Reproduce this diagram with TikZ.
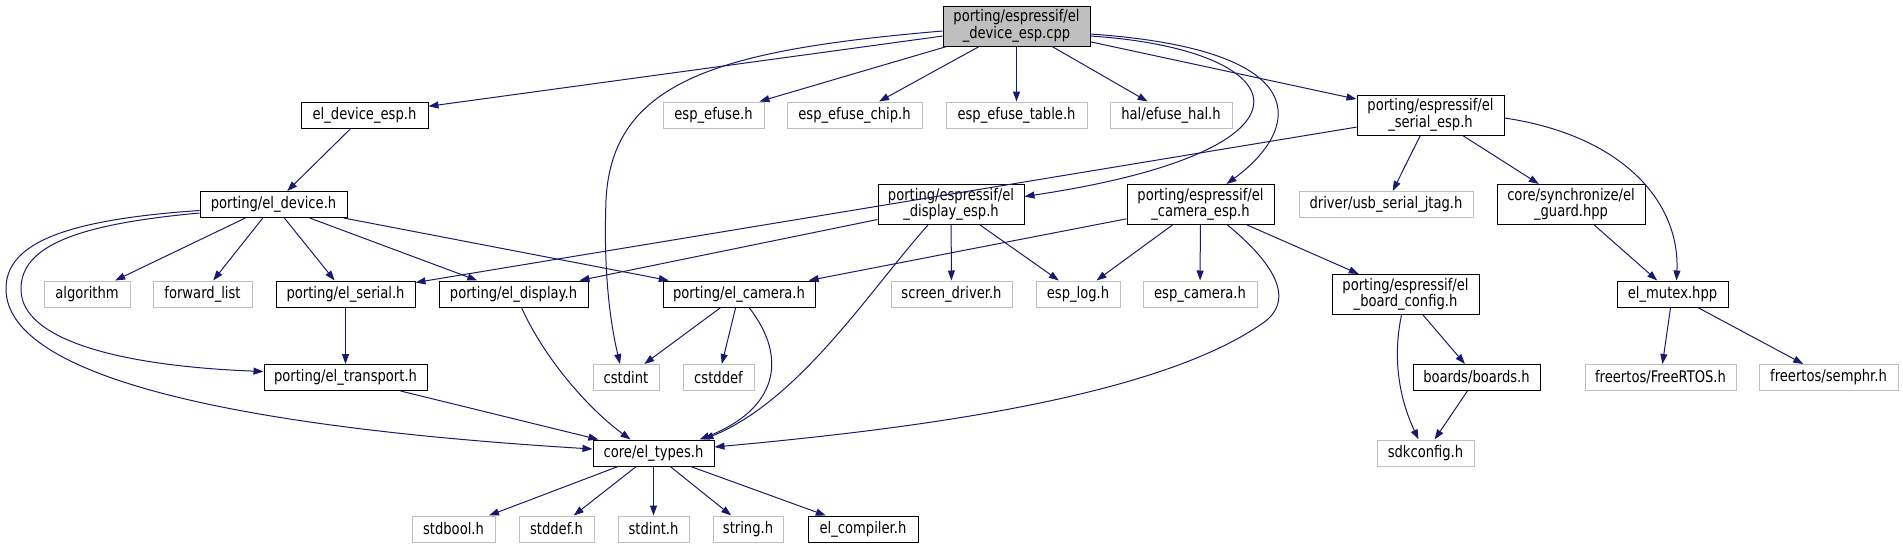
\documentclass[tikz,border=0pt]{standalone}
\usepackage{fontspec}
\setmainfont{DejaVu Sans}[FakeStretch=0.82]
\usetikzlibrary{arrows.meta}
\definecolor{edgeblue}{HTML}{191970}
\definecolor{extgray}{HTML}{BFBFBF}

\begin{document}
\begin{tikzpicture}[>={Triangle[length=10pt,width=7pt]},x=1pt,y=-1pt,font=\fontsize{16}{14.5}\selectfont]
\tikzstyle{hdr}=[draw=black,line width=1pt,inner sep=0pt,align=center,minimum height=26pt]
\tikzstyle{ext}=[hdr,draw=extgray]
\tikzstyle{two}=[minimum height=40pt]
\tikzstyle{dep}=[->,draw=edgeblue,line width=1pt]
\useasboundingbox (0,0) rectangle (1903,544);
\node[hdr,two,fill=extgray,minimum width=147pt] (cpp) at (1016.5,26) {porting/espressif/el\\\_device\_esp.cpp};
\node[hdr,minimum width=127pt] (desp) at (364.5,115) {el\_device\_esp.h};
\node[ext,minimum width=101pt] (efu) at (713.5,115) {esp\_efuse.h};
\node[ext,minimum width=135pt] (efc) at (854.5,115) {esp\_efuse\_chip.h};
\node[ext,minimum width=141pt] (eft) at (1016.5,115) {esp\_efuse\_table.h};
\node[ext,minimum width=122pt] (efh) at (1171,115) {hal/efuse\_hal.h};
\node[hdr,two,minimum width=147pt] (sesp) at (1430.5,115) {porting/espressif/el\\\_serial\_esp.h};
\node[hdr,minimum width=147pt] (dev) at (273.5,204.5) {porting/el\_device.h};
\node[hdr,two,minimum width=146pt] (dspe) at (951,204.5) {porting/espressif/el\\\_display\_esp.h};
\node[hdr,two,minimum width=147pt] (came) at (1200.5,204.5) {porting/espressif/el\\\_camera\_esp.h};
\node[ext,minimum width=174pt] (jtag) at (1386,204.5) {driver/usb\_serial\_jtag.h};
\node[hdr,two,minimum width=148pt] (grd) at (1571,204.5) {core/synchronize/el\\\_guard.hpp};
\node[ext,minimum width=86pt] (alg) at (87,294) {algorithm};
\node[ext,minimum width=99pt] (fwl) at (202.5,294) {forward\_list};
\node[hdr,minimum width=139pt] (ser) at (345.5,294) {porting/el\_serial.h};
\node[hdr,minimum width=149pt] (dsp) at (513.5,294) {porting/el\_display.h};
\node[hdr,minimum width=152pt] (cam) at (739,294) {porting/el\_camera.h};
\node[ext,minimum width=121pt] (scr) at (951.5,294) {screen\_driver.h};
\node[ext,minimum width=84pt] (log) at (1078,294) {esp\_log.h};
\node[ext,minimum width=114pt] (ecam) at (1200,294) {esp\_camera.h};
\node[hdr,two,minimum width=147pt] (bcfg) at (1405.5,294.5) {porting/espressif/el\\\_board\_config.h};
\node[hdr,minimum width=111pt] (mtx) at (1672.5,294) {el\_mutex.hpp};
\node[hdr,minimum width=163pt] (trn) at (345.5,377.5) {porting/el\_transport.h};
\node[ext,minimum width=66pt] (cin) at (626,377.5) {cstdint};
\node[ext,minimum width=71pt] (cdf) at (718.5,377.5) {cstddef};
\node[hdr,minimum width=127pt] (brd) at (1476.5,377.5) {boards/boards.h};
\node[ext,minimum width=151pt] (frt) at (1660.5,377.5) {freertos/FreeRTOS.h};
\node[ext,minimum width=139pt] (sem) at (1828.5,377.5) {freertos/semphr.h};
\node[hdr,minimum width=121pt] (typ) at (653.5,453) {core/el\_types.h};
\node[ext,minimum width=97pt] (sdk) at (1425.5,453) {sdkconfig.h};
\node[ext,minimum width=83pt] (sbo) at (453.5,529) {stdbool.h};
\node[ext,minimum width=75pt] (sdf) at (556.5,529) {stddef.h};
\node[ext,minimum width=71pt] (sin) at (653.5,529) {stdint.h};
\node[ext,minimum width=70pt] (str) at (748,529) {string.h};
\node[hdr,minimum width=110pt] (cmp) at (863,529) {el\_compiler.h};
\draw[dep] (cpp) -- (desp);
\draw[dep] ([yshift=-5pt]cpp.west) .. controls (720,50) and (612,80) .. (606,200) .. controls (603,280) and (612,330) .. ([xshift=-6pt]cin.north);
\draw[dep] (cpp) -- (efu);
\draw[dep] (cpp) -- (efc);
\draw[dep] (cpp) -- (eft);
\draw[dep] (cpp) -- (efh);
\draw[dep] ([yshift=-10pt]cpp.east) .. controls (1300,50) and (1335,150) .. ([yshift=8pt]dspe.east);
\draw[dep] ([yshift=-8pt]cpp.east) .. controls (1320,50) and (1300,130) .. ([xshift=26pt]came.north);
\draw[dep] (cpp) -- (sesp);
\draw[dep] (desp) -- (dev);
\draw[dep] (dev) -- (alg);
\draw[dep] (dev) -- (fwl);
\draw[dep] (dev) -- (ser);
\draw[dep] (dev) -- (dsp);
\draw[dep] (dev) -- (cam);
\draw[dep] ([yshift=-8.5pt]dev.west) .. controls (80,224) and (20,245) .. (21,290) .. controls (22,340) and (120,366) .. ([yshift=6pt]trn.west);
\draw[dep] ([yshift=-6pt]dev.west) .. controls (60,220) and (5,245) .. (6,290) .. controls (8,370) and (200,425) .. ([yshift=4pt]typ.west);
\draw[dep] (sesp) -- (ser);
\draw[dep] (sesp) -- (jtag);
\draw[dep] (sesp) -- (grd);
\draw[dep] ([yshift=-3pt]sesp.east) .. controls (1620,135) and (1680,200) .. ([xshift=4pt]mtx.north);
\draw[dep] (dspe) -- (dsp);
\draw[dep] ([xshift=-23pt]dspe.south) .. controls (870,290) and (800,400) .. ([xshift=50pt]typ.north);
\draw[dep] (dspe) -- (scr);
\draw[dep] (dspe) -- (log);
\draw[dep] (came) -- (cam);
\draw[dep] (came) -- (log);
\draw[dep] (came) -- (ecam);
\draw[dep] ([xshift=27pt]came.south) .. controls (1270,260) and (1300,300) .. (1260,325) .. controls (1150,400) and (900,430) .. ([yshift=6pt]typ.east);
\draw[dep] (came) -- (bcfg);
\draw[dep] (grd) -- (mtx);
\draw[dep] (ser) -- (trn);
\draw[dep] ([xshift=8pt]dsp.south) .. controls (545,360) and (590,410) .. ([xshift=-23pt]typ.north);
\draw[dep] (cam) -- (cin);
\draw[dep] (cam) -- (cdf);
\draw[dep] ([xshift=10pt]cam.south) .. controls (790,360) and (775,410) .. ([xshift=46pt]typ.north);
\draw[dep] (trn) -- (typ);
\draw[dep] (bcfg) -- (brd);
\draw[dep] ([xshift=-4pt]bcfg.south) .. controls (1392,360) and (1400,400) .. ([xshift=-7pt]sdk.north);
\draw[dep] (brd) -- (sdk);
\draw[dep] (mtx) -- (frt);
\draw[dep] (mtx) -- (sem);
\draw[dep] (typ) -- (sbo);
\draw[dep] (typ) -- (sdf);
\draw[dep] (typ) -- (sin);
\draw[dep] (typ) -- (str);
\draw[dep] (typ) -- (cmp);
\end{tikzpicture}
\end{document}
